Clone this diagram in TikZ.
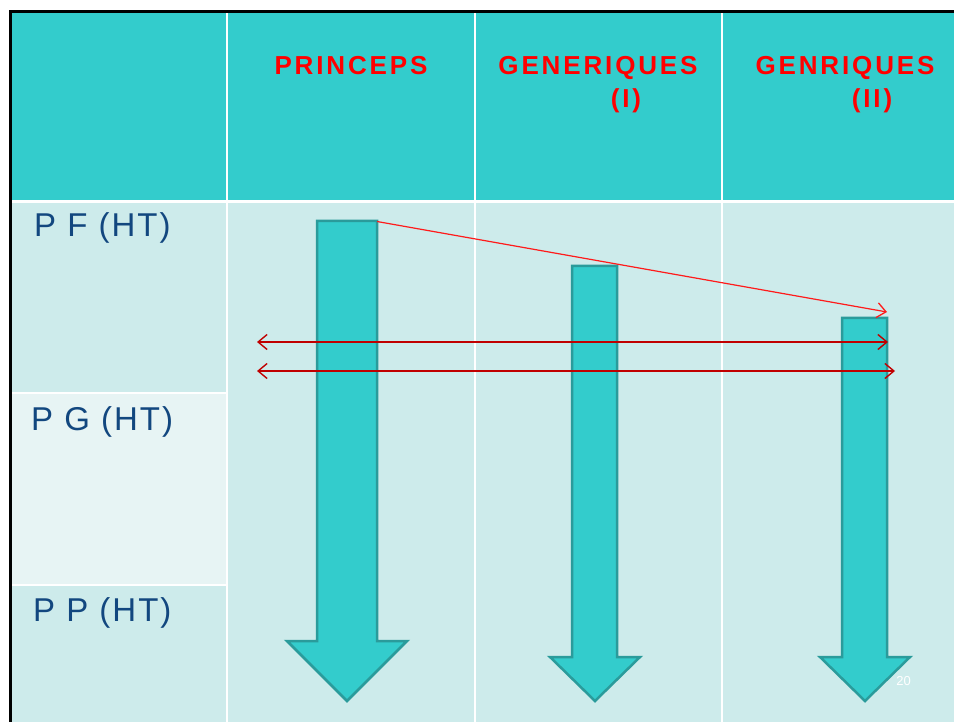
\documentclass[tikz,border=0pt]{standalone}
\usepackage{fontspec}
\setmainfont{Liberation Sans}
\usetikzlibrary{arrows.meta}
\definecolor{headteal}{HTML}{33CCCC}
\definecolor{bodyteal}{HTML}{CDEBEB}
\definecolor{paleteal}{HTML}{E7F4F4}
\definecolor{edgeteal}{HTML}{2A9B9B}
\definecolor{labelblue}{HTML}{12477F}
\definecolor{linkred}{HTML}{FF1A1A}
\definecolor{darkred}{HTML}{C00000}
\tikzset{
  headtext/.style={text=red, font=\fontsize{26}{31}\selectfont\bfseries\addfontfeature{LetterSpace=11}, inner sep=0pt, anchor=base},
  rowtext/.style={text=labelblue, font=\fontsize{33}{38}\selectfont\addfontfeature{LetterSpace=6}, inner sep=0pt, anchor=base west},
  blockarrow/.style={fill=headteal, draw=edgeteal, line width=2.5pt, line join=miter},
  slantlink/.style={draw=linkred, line width=1.2pt, -{Straight Barb[length=9,width=15,line width=1.3pt]}},
  spanlink/.style={draw=darkred, line width=1.5pt, {Straight Barb[length=9,width=15,line width=1.4pt]}-{Straight Barb[length=9,width=15,line width=1.4pt]}},
  grid/.style={draw=white, line width=2.5pt}
}
\begin{document}
\begin{tikzpicture}[x=1pt,y=-1pt]
\useasboundingbox (0,0) rectangle (954,722);
\fill[white] (0,0) rectangle (954,722);
% header and body cells
\fill[headteal] (11,13) rectangle (954,201);
\fill[bodyteal] (11,201) rectangle (954,722);
\fill[paleteal] (11,393) rectangle (227,585);
% cell borders
\draw[grid] (11,201.5) -- (954,201.5);
\draw[grid] (11,393) -- (227,393);
\draw[grid] (11,585) -- (227,585);
\draw[grid] (227,13) -- (227,722);
\draw[grid] (475,13) -- (475,722);
\draw[grid] (722,13) -- (722,722);
% outer frame
\draw[black, line width=3pt] (954,12) -- (10.5,12) -- (10.5,722);
% column headings
\node[headtext] (princeps) at (351,75) {PRINCEPS};
\node[headtext] (generiques) at (598,75) {GENERIQUES};
\node[headtext] (gen1) at (626,108) {(I)};
\node[headtext] (genriques) at (845,75) {GENRIQUES};
\node[headtext] (gen2) at (872,108) {(II)};
% row headings
\node[rowtext] (pf) at (34,237) {P F (HT)};
\node[rowtext] (pg) at (31,430) {P G (HT)};
\node[rowtext] (pp) at (33,621) {P P (HT)};
% block arrows
\draw[blockarrow] (317,221) -- (377,221) -- (377,641) -- (407,641) -- (347,701) -- (287,641) -- (317,641) -- cycle;
\draw[blockarrow] (572,266) -- (617,266) -- (617,657) -- (640,657) -- (595,701) -- (550,657) -- (572,657) -- cycle;
\draw[blockarrow] (842,318) -- (887,318) -- (887,657) -- (910,657) -- (865,701) -- (820,657) -- (842,657) -- cycle;
% link end points
\coordinate (pctop) at (377,221.5);
\coordinate (g2top) at (887,312);
\coordinate (aL) at (257,342);
\coordinate (aR) at (888,342);
\coordinate (bL) at (257,371);
\coordinate (bR) at (895,371);
\draw[slantlink] (pctop) -- (g2top);
\draw[spanlink] (aL) -- (aR);
\draw[spanlink] (bL) -- (bR);
% page number
\node[text=white, font=\fontsize{13}{15}\selectfont, inner sep=0pt] (pageno) at (903.5,681) {20};
\end{tikzpicture}
\end{document}
